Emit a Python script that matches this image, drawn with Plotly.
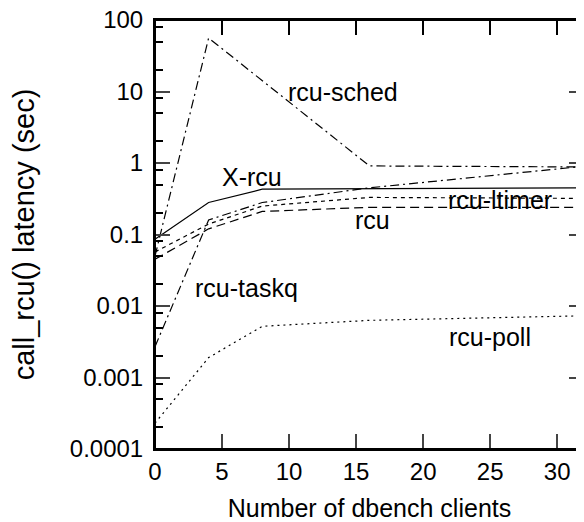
import plotly.graph_objects as go

clients = [0, 4, 8, 16, 32]
x_rcu = [0.086, 0.28, 0.43, 0.44, 0.45]
rcu_ltimer = [0.057, 0.14, 0.25, 0.33, 0.32]
rcu = [0.045, 0.12, 0.21, 0.24, 0.24]
sched_x = [0, 4, 16, 32]
rcu_sched = [0.05, 56, 0.91, 0.88]
rcu_taskq = [0.0027, 0.16, 0.28, 0.45, 0.9]
rcu_poll = [0.00023, 0.0019, 0.0052, 0.0063, 0.0073]

ytick_vals = [0.0001, 0.001, 0.01, 0.1, 1, 10, 100]
ytick_text = ["0.0001", "0.001", "0.01", "0.1", "1", "10", "100"]
xtick_vals = [0, 5, 10, 15, 20, 25, 30]

labels = [
    ("rcu-sched", 14.0, 0.99),
    ("X-rcu", 7.2, -0.196),
    ("rcu-ltimer", 25.7, -0.517),
    ("rcu", 16.2, -0.80),
    ("rcu-taskq", 6.8, -1.75),
    ("rcu-poll", 25.0, -2.43),
]

FONT = "Liberation Sans"
fig = go.Figure()
black = "black"
# X-rcu drawn on the overlaying top axis (same range) so that the top ticks render
fig.add_trace(go.Scatter(x=clients, y=x_rcu, mode="lines", xaxis="x2",
                         line=dict(color=black, width=1.2, dash="solid")))
fig.add_trace(go.Scatter(x=clients, y=rcu_ltimer, mode="lines", line=dict(color=black, width=1.2, dash="4px,4px")))
fig.add_trace(go.Scatter(x=clients, y=rcu, mode="lines", line=dict(color=black, width=1.2, dash="9px,5px")))
fig.add_trace(go.Scatter(x=sched_x, y=rcu_sched, mode="lines",
                         line=dict(color=black, width=1.2, dash="9px,4px,2px,4px")))
fig.add_trace(go.Scatter(x=clients, y=rcu_taskq, mode="lines", line=dict(color=black, width=1.2, dash="9px,4px,2px,4px")))
fig.add_trace(go.Scatter(x=clients, y=rcu_poll, mode="lines", line=dict(color=black, width=1.2, dash="2px,4px")))

for t, x, y in labels:
    fig.add_annotation(x=x, y=y, text=t, showarrow=False, font=dict(family=FONT, size=25, color=black),
                       xanchor="center", yanchor="middle")

minor_vals = []
for e in range(-4, 2):
    for m in (2, 5, 8):
        minor_vals.append(m * 10 ** e)

fig.update_layout(
    width=576, height=514,
    margin=dict(l=147, r=0, t=12, b=73),
    paper_bgcolor="white", plot_bgcolor="white",
    showlegend=False,
    font=dict(family=FONT, size=22, color=black),
    xaxis2=dict(overlaying="x", side="top", range=[0, 32], tickvals=xtick_vals, ticks="inside",
                ticklen=15, tickwidth=2, tickcolor=black, showticklabels=False, showgrid=False,
                zeroline=False, showline=True, linewidth=2, linecolor=black, automargin=False),
)
fig.add_shape(type="rect", xref="paper", yref="paper", x0=0, x1=1, y0=0, y1=1,
              line=dict(color=black, width=2), layer="above")
fig.layout.xaxis.update(range=[0, 32], tickvals=xtick_vals, ticks="inside", ticklen=15, tickwidth=2,
                        showline=True, linewidth=2, linecolor=black, mirror="ticks", showgrid=False, zeroline=False,
                        automargin=False, ticklabelstandoff=0, ticklabeloverflow="allow",
                        title=dict(text="Number of dbench clients", standoff=23, font=dict(size=25)),
                        tickfont=dict(size=24))
fig.update_yaxes(type="log", range=[-4, 2], tickvals=ytick_vals, ticktext=ytick_text, ticks="inside",
                 ticklen=15, tickwidth=2, showline=True, linewidth=2, linecolor=black, mirror="ticks",
                 showgrid=False, zeroline=False, automargin=False, ticklabelstandoff=5,
                 ticklabeloverflow="allow",
                 minor=dict(tickvals=minor_vals, ticks="inside", ticklen=8, tickwidth=2, tickcolor=black, showgrid=False),
                 title=dict(text="call_rcu() latency (sec)", standoff=28, font=dict(size=29)),
                 tickfont=dict(size=24))

fig.write_html("out.html")
